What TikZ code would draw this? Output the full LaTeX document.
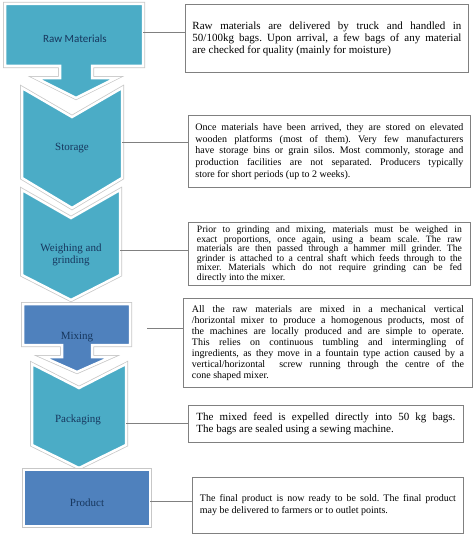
\documentclass[tikz,border=0pt]{standalone}
\usepackage{fontspec}
\setmainfont{Liberation Serif}
\newfontfamily\calibri{Carlito}
\setlength{\parindent}{0pt}
\frenchspacing

\definecolor{stepteal}{HTML}{4BACC6}
\definecolor{stepblue}{HTML}{4F81BD}
\definecolor{stepink}{HTML}{17375E}
\definecolor{framegray}{HTML}{808080}

\tikzset{
    stepshape/.style={fill=#1, draw=white, line width=2.5pt, line join=miter,
        preaction={draw=black!22, line width=4pt}},
    steplabel/.style={text=stepink, align=center, inner sep=0pt,
        font=\rmfamily\fontsize{11}{12}\selectfont},
    infobox/.style={draw=framegray, line width=0.9pt, align=justify,
        anchor=north west, inner xsep=0pt},
    link/.style={draw=framegray, line width=0.8pt},
}

\begin{document}
\begin{tikzpicture}[x=1pt,y=-1pt]
    \useasboundingbox (0,0) rectangle (474,535);
    %% Raw Materials callout
    \draw[stepshape=stepteal] (5,4) -- (143,4) -- (143,66) -- (92,66) -- (92,78) -- (116,78)
        -- (76,98) -- (36,78) -- (60,78) -- (60,66) -- (5,66) -- cycle;
    \node[steplabel, font=\calibri\fontsize{11}{12}\selectfont] (raw) at (75,39) {Raw Materials};
    %% Storage chevron
    \draw[stepshape=stepteal] (22,88) -- (72,117) -- (122,88) -- (122,178) -- (72,208) -- (22,178) -- cycle;
    \node[steplabel] (storage) at (72,148) {Storage};
    %% Weighing chevron
    \draw[stepshape=stepteal] (22,190) -- (71,218) -- (120,190) -- (120,275) -- (71,300) -- (22,275) -- cycle;
    \node[steplabel] (weighing) at (71,255) {Weighing and\\grinding};
    %% Mixing callout
    \draw[stepshape=stepblue] (23,304) -- (130,304) -- (130,345) -- (92,345) -- (92,357) -- (111,357)
        -- (77,372) -- (43,357) -- (62,357) -- (62,345) -- (23,345) -- cycle;
    \node[steplabel] (mixing) at (77,337) {Mixing};
    %% Packaging chevron
    \draw[stepshape=stepteal] (32,364) -- (79,388) -- (126,364) -- (126,445) -- (79,468) -- (32,445) -- cycle;
    \node[steplabel] (packaging) at (78,420) {Packaging};
    %% Product
    \draw[stepshape=stepblue] (24,470) rectangle (150,526);
    \node[steplabel] (product) at (87,503) {Product};

    %% Text boxes
    \node[infobox, minimum width=283, minimum height=68, text width=269,
        font=\fontsize{11}{12}\selectfont] (rawbox) at (185,4)
        {Raw materials are delivered by truck and handled in\linebreak
        50/100kg bags. Upon arrival, a few bags of any material\linebreak
        are checked for quality (mainly for moisture)};
    \node[infobox, minimum width=282, minimum height=72, text width=268,
        font=\fontsize{10}{11.8}\selectfont] (storagebox) at (188,115)
        {Once materials have been arrived, they are stored on elevated\linebreak
        wooden platforms (most of them). Very few manufacturers\linebreak
        have storage bins or grain silos. Most commonly, storage and\linebreak
        production facilities are not separated. Producers typically\linebreak
        store for short periods (up to 2 weeks).\par\vspace*{14pt}};
    \node[infobox, minimum width=282, minimum height=59, text width=265,
        font=\fontsize{9.7}{9.5}\selectfont] (weighingbox) at (188,222)
        {Prior to grinding and mixing, materials must be weighed in\linebreak
        exact proportions, once again, using a beam scale. The raw\linebreak
        materials are then passed through a hammer mill grinder. The\linebreak
        grinder is attached to a central shaft which feeds through to the\linebreak
        mixer. Materials which do not require grinding can be fed\linebreak
        directly into the mixer.};
    \node[infobox, minimum width=289, minimum height=89, text width=272,
        font=\fontsize{10}{11}\selectfont] (mixingbox) at (183,298)
        {All the raw materials are mixed in a mechanical vertical\linebreak
        /horizontal mixer to produce a homogenous products, most of\linebreak
        the machines are locally produced and are simple to operate.\linebreak
        This relies on continuous tumbling and intermingling of\linebreak
        ingredients, as they move in a fountain type action caused by a\linebreak
        vertical/horizontal\ \ screw running through the centre of the\linebreak
        cone shaped mixer.};
    \node[infobox, minimum width=275, minimum height=37, text width=259,
        font=\fontsize{11}{12}\selectfont] (packagingbox) at (188,405)
        {The mixed feed is expelled directly into 50 kg bags.\linebreak
        The bags are sealed using a sewing machine.};
    \node[infobox, minimum width=271, minimum height=56, text width=256,
        font=\fontsize{10}{12}\selectfont] (productbox) at (192,477)
        {The final product is now ready to be sold. The final product\linebreak
        may be delivered to farmers or to outlet points.};

    %% Connectors
    \coordinate (rawE) at (143,32);
    \coordinate (storageE) at (122,142);
    \coordinate (weighingE) at (120,250);
    \coordinate (mixingE) at (147,328);
    \coordinate (packagingE) at (126,423);
    \coordinate (productE) at (150,501);
    \draw[link] (rawE) -- (rawE -| rawbox.west);
    \draw[link] (storageE) -- (storageE -| storagebox.west);
    \draw[link] (weighingE) -- (weighingE -| weighingbox.west);
    \draw[link] (mixingE) -- (mixingE -| mixingbox.west);
    \draw[link] (packagingE) -- (packagingE -| packagingbox.west);
    \draw[link] (productE) -- (productE -| productbox.west);
\end{tikzpicture}
\end{document}
